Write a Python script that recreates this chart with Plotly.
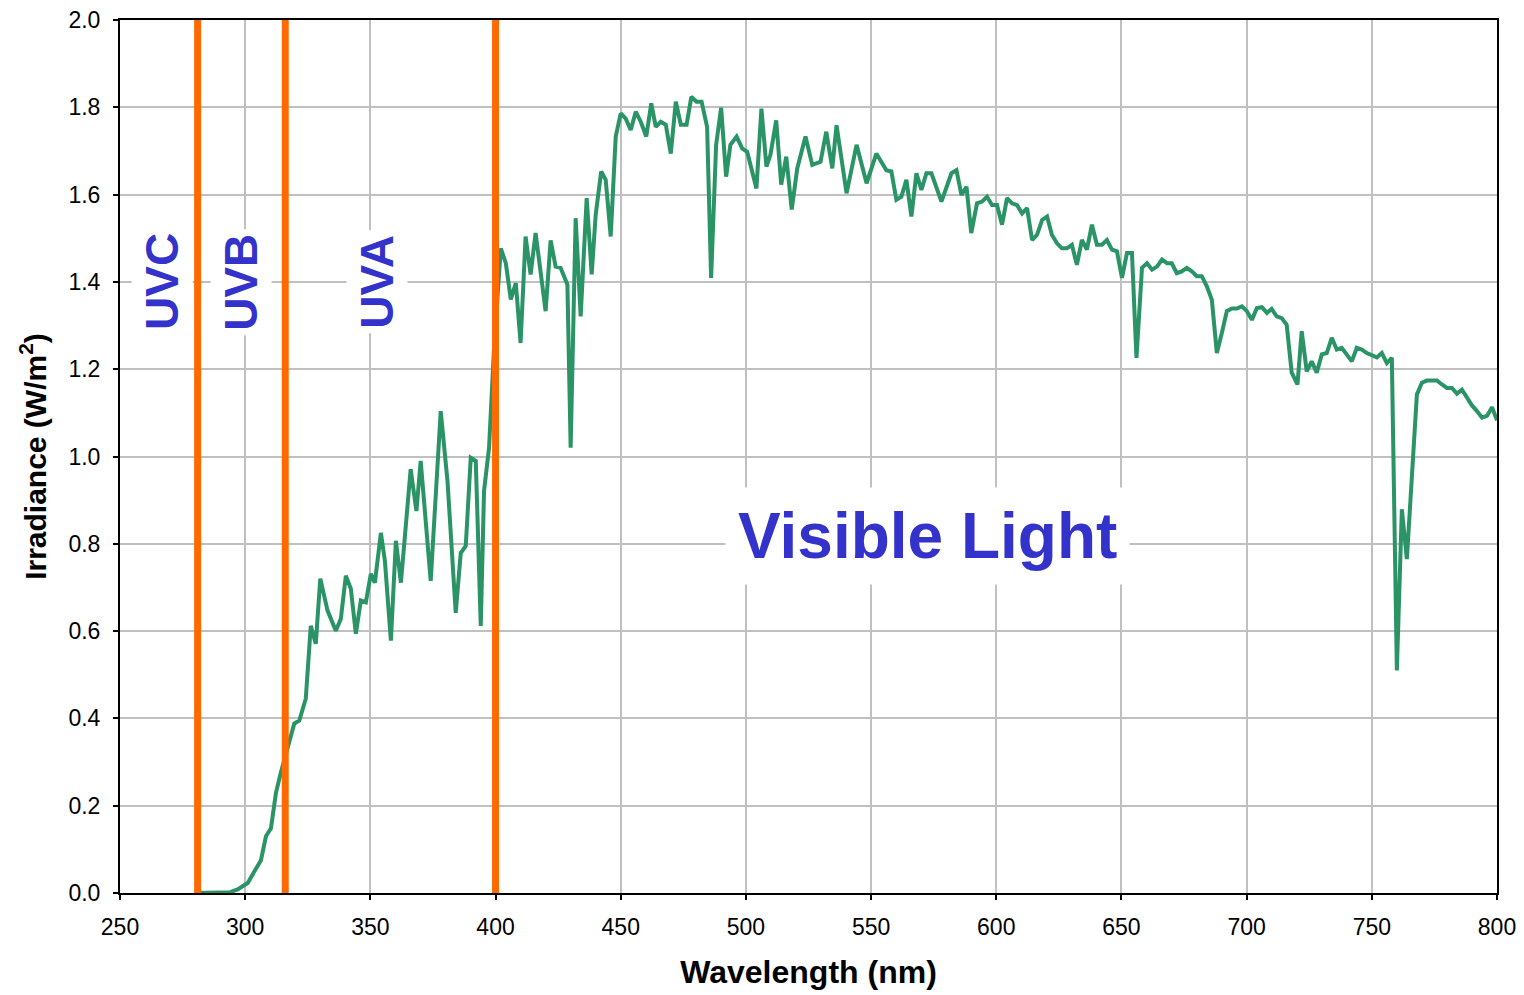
import plotly.graph_objects as go

wavelength = [280, 285, 290, 294, 297, 301, 306.3, 308.3, 310.3, 312.3, 314.3, 317, 319.6, 321.6, 324.2,
              326.2, 328.2, 330, 332.9, 336.2, 338.2, 340.2, 342.2, 344.2, 346.2, 348.2, 350.2, 351.8,
              354.2, 355.8, 358.2, 360.2, 362.2, 366.1, 368.4, 370.1, 374.1, 378.1, 380.8, 384.1, 386.1,
              388.1, 390.1, 392.1, 394.1, 395.4, 397.4, 399.4, 402.1, 404.1, 406.1, 408.1, 410, 412, 414,
              416, 420, 422, 424, 426, 428.7, 430, 432, 434, 436.4, 438.4, 440, 442.2, 444, 446, 448,
              450, 452, 454, 456, 458, 460.2, 462.2, 464, 466, 468, 470, 472, 474, 476.3, 478.2, 480.3,
              482.3, 484.5, 486.1, 488.1, 490.1, 492.1, 493.8, 496.3, 498.5, 500.5, 504.2, 506.2, 508.2,
              509.8, 512.1, 514.1, 516.1, 518.3, 520.5, 523.8, 526.5, 529.8, 532.1, 534.5, 536.2, 540.2,
              544.2, 548.2, 552.1, 556.1, 558.1, 560.1, 562.1, 564.1, 566.1, 568.1, 570.1, 572.1, 574.1,
              578.1, 582.1, 584.1, 586.1, 588.1, 590, 592.3, 594.3, 596.3, 598.3, 600.3, 602.3, 604.3,
              606.3, 608.3, 610.3, 612.3, 614.3, 616.3, 618.3, 620.3, 622.2, 624.2, 626.2, 628.2, 630.2,
              632.2, 634.2, 636.2, 638.2, 640.2, 642.2, 644.2, 646.2, 648.2, 650.2, 652.2, 654.2, 656,
              658.2, 660.2, 662.2, 664.2, 666.2, 668.2, 670.1, 672.1, 674.1, 676.1, 678.1, 680.1, 682.1,
              684.1, 686.1, 688.1, 690.1, 692.1, 694.1, 696.1, 698.1, 700.1, 702.1, 704.1, 706.1, 708.1,
              710, 712, 714, 716, 718, 720.3, 722, 724, 726, 728, 730, 732, 734, 736, 738, 740, 742, 744,
              746, 748, 750, 752, 754, 756, 758, 760, 762, 764, 768, 770, 772, 774, 776, 778, 780, 782,
              784, 786, 788, 790, 792, 794, 796, 798, 800]

irradiance = [0, 0, 0, 0.002, 0.008, 0.023, 0.075, 0.13, 0.148, 0.23, 0.277, 0.334, 0.388, 0.395, 0.445,
              0.612, 0.571, 0.72, 0.647, 0.601, 0.628, 0.727, 0.697, 0.594, 0.67, 0.666, 0.731, 0.711,
              0.825, 0.761, 0.578, 0.807, 0.711, 0.971, 0.875, 0.99, 0.715, 1.104, 0.944, 0.642, 0.779,
              0.795, 0.997, 0.99, 0.612, 0.921, 1.02, 1.249, 1.477, 1.443, 1.36, 1.397, 1.26, 1.504, 1.417,
              1.512, 1.333, 1.495, 1.435, 1.432, 1.394, 1.02, 1.546, 1.321, 1.592, 1.417, 1.554, 1.653,
              1.634, 1.504, 1.733, 1.786, 1.774, 1.748, 1.79, 1.767, 1.733, 1.809, 1.755, 1.767, 1.76,
              1.694, 1.813, 1.76, 1.76, 1.824, 1.813, 1.813, 1.755, 1.409, 1.714, 1.799, 1.641, 1.714,
              1.733, 1.706, 1.698, 1.614, 1.797, 1.664, 1.691, 1.77, 1.623, 1.687, 1.566, 1.66, 1.733,
              1.668, 1.675, 1.744, 1.66, 1.759, 1.603, 1.714, 1.626, 1.694, 1.656, 1.653, 1.588, 1.595,
              1.634, 1.55, 1.649, 1.611, 1.649, 1.649, 1.584, 1.649, 1.656, 1.599, 1.618, 1.512, 1.58,
              1.584, 1.595, 1.576, 1.576, 1.531, 1.592, 1.58, 1.576, 1.557, 1.569, 1.496, 1.508, 1.542,
              1.55, 1.508, 1.489, 1.477, 1.477, 1.485, 1.439, 1.496, 1.474, 1.531, 1.485, 1.485, 1.496,
              1.474, 1.47, 1.409, 1.466, 1.466, 1.226, 1.432, 1.443, 1.428, 1.435, 1.451, 1.443, 1.443,
              1.42, 1.424, 1.432, 1.424, 1.413, 1.413, 1.39, 1.359, 1.237, 1.283, 1.333, 1.339, 1.339,
              1.344, 1.333, 1.313, 1.34, 1.342, 1.329, 1.338, 1.321, 1.317, 1.302, 1.192, 1.165, 1.287,
              1.195, 1.218, 1.192, 1.234, 1.237, 1.272, 1.245, 1.249, 1.234, 1.218, 1.249, 1.245, 1.237,
              1.232, 1.227, 1.237, 1.214, 1.226, 0.51, 0.879, 0.765, 1.142, 1.169, 1.174, 1.173, 1.174,
              1.165, 1.157, 1.157, 1.144, 1.153, 1.134, 1.117, 1.104, 1.089, 1.093, 1.113, 1.083]

band_edges = [281, 316, 400]
band_labels = ["UVC", "UVB", "UVA"]
band_label_x = [266.8, 298.3, 352.6]
band_label_y = 1.4
visible_label = "Visible Light"
visible_pos = (572.5, 0.818)

x_ticks = list(range(250, 801, 50))
y_ticks = [0.0, 0.2, 0.4, 0.6, 0.8, 1.0, 1.2, 1.4, 1.6, 1.8, 2.0]

LABEL_BLUE = "#3333CC"
ORANGE = "#FF6A00"
GREEN = "#2A9466"

fig = go.Figure()
fig.add_trace(go.Scatter(x=wavelength, y=irradiance, mode="lines",
                         line=dict(color=GREEN, width=4), showlegend=False))

for xe in band_edges:
    fig.add_shape(type="line", x0=xe, x1=xe, y0=0, y1=2.0, xref="x", yref="y",
                  line=dict(color=ORANGE, width=7), layer="above")

for lab, lx in zip(band_labels, band_label_x):
    fig.add_annotation(x=lx, y=band_label_y, text="<b>" + lab + "</b>", textangle=-90,
                       showarrow=False, font=dict(family="Arial", size=46, color=LABEL_BLUE),
                       bgcolor="white", borderpad=4)

fig.add_annotation(x=visible_pos[0], y=visible_pos[1], text="<b>" + visible_label + "</b>",
                   showarrow=False, font=dict(family="Arial", size=64, color=LABEL_BLUE),
                   bgcolor="white", borderpad=12)

axis_common = dict(showline=True, linecolor="black", linewidth=2, mirror=True,
                   showgrid=True, gridcolor="#C0C0C0", gridwidth=2,
                   ticks="outside", ticklen=5, tickcolor="black", tickwidth=2,
                   tickfont=dict(family="Arial", size=23, color="black"), zeroline=False,
                   automargin=False)

fig.update_xaxes(range=[250, 800], tickvals=x_ticks, ticktext=[str(v) for v in x_ticks],
                 ticklabelstandoff=7,
                 title=dict(text="<b>Wavelength (nm)</b>", font=dict(family="Arial", size=32, color="black"),
                            standoff=22), **axis_common)
fig.update_yaxes(range=[0, 2.0], tickvals=y_ticks, ticktext=[f"{v:.1f}" for v in y_ticks],
                 ticklabelstandoff=8,
                 title=dict(text="<b>Irradiance (W/m<sup>2</sup>)</b>",
                            font=dict(family="Arial", size=30, color="black"), standoff=13),
                 **axis_common)

fig.update_layout(width=1524, height=995, margin=dict(l=120, r=27, t=20, b=102, autoexpand=False),
                  paper_bgcolor="white", plot_bgcolor="white", showlegend=False)

fig.write_html("out.html")
